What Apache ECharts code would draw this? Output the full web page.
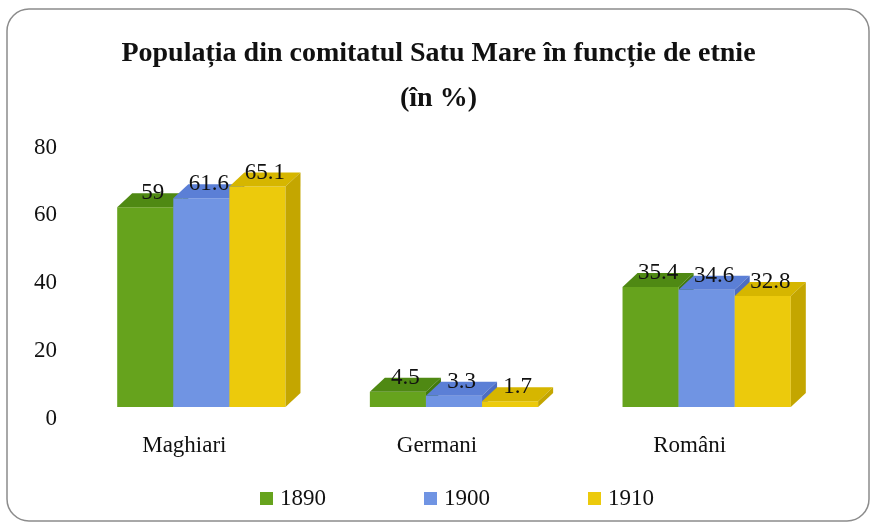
<!DOCTYPE html>
<html>
<head>
<meta charset="utf-8">
<script src="https://cdn.jsdelivr.net/npm/echarts@6/dist/echarts.min.js"></script>
<style>
  html, body { margin: 0; padding: 0; background: #fff; }
  #chart { width: 877px; height: 524px; }
</style>
</head>
<body>
<div id="chart"></div>
<script>
    // date din grafic
    var etnii = ['Maghiari', 'Germani', 'Români'];
    var ani = ['1890', '1900', '1910'];
    var valori1890 = [59, 4.5, 35.4];
    var valori1900 = [61.6, 3.3, 34.6];
    var valori1910 = [65.1, 1.7, 32.8];
    var yTicks = [0, 20, 40, 60, 80];

    // culori: fata, capac, lateral
    var culori = [
        { front: '#66a31d', top: '#4f8913', side: '#427a0c' },
        { front: '#7094e3', top: '#5b7fd6', side: '#4d6dc2' },
        { front: '#ecca0c', top: '#d6b600', side: '#c4a600' }
    ];

    var chart = echarts.init(document.getElementById('chart'));

    function makeRender(idx) {
        return function (params, api) {
            var cat = api.value(0);
            var val = api.value(1);
            var base = api.coord([cat, 0]);
            var top = api.coord([cat, val]);
            var band = api.size([1, 0])[0];
            var barW = band * 0.222;
            var x0 = base[0] - 1.5 * barW + idx * barW;
            var x1 = x0 + barW;
            var dx = 15, dy = -14; //adancimea
            var c = culori[idx];
            return {
                type: 'group',
                children: [
                    {
                        type: 'rect',
                        shape: { x: x0, y: top[1], width: barW, height: base[1] - top[1] },
                        style: { fill: c.front }
                    },
                    {
                        type: 'polygon',
                        shape: { points: [[x0, top[1]], [x1, top[1]], [x1 + dx, top[1] + dy], [x0 + dx, top[1] + dy]] },
                        style: { fill: c.top }
                    },
                    {
                        type: 'polygon',
                        shape: { points: [[x1, top[1]], [x1 + dx, top[1] + dy], [x1 + dx, base[1] + dy], [x1, base[1]]] },
                        style: { fill: c.side }
                    },
                    {
                        type: 'text',
                        x: x0 + barW / 2 + dx / 2,
                        y: top[1] - 14,
                        style: {
                            text: String(val),
                            fill: '#111',
                            font: '23px "Liberation Serif"',
                            align: 'center',
                            verticalAlign: 'middle'
                        }
                    }
                ]
            };
        };
    }

    var seriesData = [valori1890, valori1900, valori1910];

    var option = {
        backgroundColor: '#fff',
        title: {
            text: 'Populația din comitatul Satu Mare în funcție de etnie\n(în %)',
            left: 'center',
            top: 26,
            textStyle: {
                fontFamily: 'Liberation Serif',
                fontWeight: 'bold',
                fontSize: 28,
                lineHeight: 45,
                color: '#111'
            }
        },
        graphic: [{
            type: 'rect',
            shape: { x: 7, y: 9, width: 862, height: 512, r: 22 },
            style: { fill: 'none', stroke: '#8c8c8c', lineWidth: 1.5 },
            silent: true
        }],
        legend: {
            data: ani,
            bottom: 9,
            left: 255,
            icon: 'rect',
            itemWidth: 13,
            itemHeight: 13,
            itemGap: 98,
            textStyle: { fontFamily: 'Liberation Serif', fontSize: 23, color: '#111', padding: [0, 0, 0, 2] }
        },
        grid: { left: 75, right: 44, top: 136, bottom: 117 },
        xAxis: {
            type: 'category',
            data: etnii,
            axisLine: { show: false },
            axisTick: { show: false },
            axisLabel: {
                margin: 27,
                padding: [0, 34, 0, 0],
                fontFamily: 'Liberation Serif',
                fontSize: 23,
                color: '#111'
            }
        },
        yAxis: {
            type: 'value',
            min: yTicks[0],
            max: yTicks[yTicks.length - 1],
            interval: 20,
            axisLine: { show: false },
            axisTick: { show: false },
            splitLine: { show: false },
            axisLabel: {
                margin: 18,
                verticalAlign: 'top',
                fontFamily: 'Liberation Serif',
                fontSize: 23,
                color: '#111'
            }
        },
        series: ani.map(function (an, i) {
            return {
                name: an,
                type: 'custom',
                renderItem: makeRender(i),
                itemStyle: { color: culori[i].front },
                encode: { x: 0, y: 1 },
                data: seriesData[i].map(function (v, j) { return [j, v]; })
            };
        })
    };
    chart.setOption(option);
</script>
</body>
</html>
